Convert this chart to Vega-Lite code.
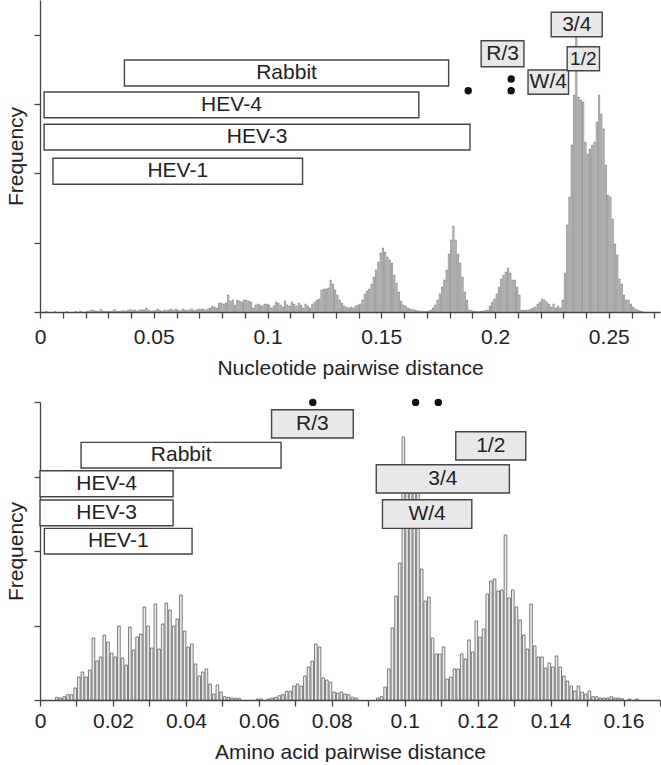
{
  "$schema": "https://vega.github.io/schema/vega-lite/v6.json",
  "padding": {"left": 5, "top": 0, "right": 0, "bottom": 0},
  "spacing": 20,
  "config": {
    "view": {"stroke": null},
    "font": "Liberation Sans",
    "text": {"font": "Liberation Sans"},
    "axis": {
      "labelFont": "Liberation Sans", "titleFont": "Liberation Sans",
      "labelFontSize": 21, "titleFontSize": 21, "titleFontWeight": "normal",
      "labelColor": "#222", "titleColor": "#222",
      "domainColor": "#444", "tickColor": "#444", "domainWidth": 1.3, "tickWidth": 1.3, "tickSize": 6,
      "grid": false, "labelOverlap": false, "labelFlush": false
    }
  },
  "vconcat": [
    {
      "width": 620, "height": 312,
      "layer": [
        {
          "data": {"values": [
            {"d":0.002,"f":0.5},{"d":0.006,"f":0.5},{"d":0.011,"f":0.5},{"d":0.015,"f":0.5},{"d":0.017,"f":0.5},
            {"d":0.020,"f":0.5},{"d":0.021,"f":1},{"d":0.022,"f":2},{"d":0.023,"f":1.5},{"d":0.024,"f":1},{"d":0.025,"f":0.5},{"d":0.026,"f":2.5},{"d":0.027,"f":1},{"d":0.028,"f":0.5},{"d":0.029,"f":1},
            {"d":0.030,"f":0.5},{"d":0.031,"f":1},{"d":0.032,"f":2.5},{"d":0.033,"f":1},{"d":0.034,"f":0.5},{"d":0.035,"f":1},{"d":0.036,"f":1.5},{"d":0.037,"f":1},{"d":0.038,"f":1.5},{"d":0.039,"f":2.5},
            {"d":0.040,"f":1.5},{"d":0.041,"f":2},{"d":0.042,"f":1},{"d":0.043,"f":2},{"d":0.044,"f":2.5},{"d":0.045,"f":2},{"d":0.046,"f":4},{"d":0.047,"f":2},{"d":0.048,"f":1},{"d":0.049,"f":1},
            {"d":0.050,"f":1.5},{"d":0.051,"f":3},{"d":0.052,"f":1.5},{"d":0.053,"f":1},{"d":0.054,"f":2},{"d":0.055,"f":1.5},{"d":0.056,"f":2},{"d":0.057,"f":3},{"d":0.058,"f":1.5},{"d":0.059,"f":3},
            {"d":0.060,"f":2},{"d":0.061,"f":1},{"d":0.062,"f":3},{"d":0.063,"f":2},{"d":0.064,"f":1.5},{"d":0.065,"f":2},{"d":0.066,"f":3},{"d":0.067,"f":1.5},{"d":0.068,"f":2},{"d":0.069,"f":3},
            {"d":0.070,"f":2.5},{"d":0.071,"f":3},{"d":0.072,"f":2},{"d":0.073,"f":3},{"d":0.074,"f":4},{"d":0.075,"f":6},{"d":0.076,"f":5},{"d":0.077,"f":4},{"d":0.078,"f":9},{"d":0.079,"f":9},
            {"d":0.080,"f":8},{"d":0.081,"f":9},{"d":0.082,"f":17},{"d":0.083,"f":11},{"d":0.084,"f":12},{"d":0.085,"f":7},{"d":0.086,"f":12},{"d":0.087,"f":11},{"d":0.088,"f":10},{"d":0.089,"f":12},
            {"d":0.090,"f":12},{"d":0.091,"f":11},{"d":0.092,"f":10},{"d":0.093,"f":4},{"d":0.094,"f":7},{"d":0.095,"f":8},{"d":0.096,"f":7},{"d":0.097,"f":6},{"d":0.098,"f":8},{"d":0.099,"f":8},
            {"d":0.100,"f":7},{"d":0.101,"f":4},{"d":0.102,"f":6},{"d":0.103,"f":10},{"d":0.104,"f":9},{"d":0.105,"f":7},{"d":0.106,"f":5},{"d":0.107,"f":11},{"d":0.108,"f":7},{"d":0.109,"f":6},
            {"d":0.110,"f":10},{"d":0.111,"f":8},{"d":0.112,"f":6},{"d":0.113,"f":9},{"d":0.114,"f":7},{"d":0.115,"f":4},{"d":0.116,"f":8},{"d":0.117,"f":6},{"d":0.118,"f":4},{"d":0.119,"f":8},
            {"d":0.120,"f":10},{"d":0.121,"f":12},{"d":0.122,"f":13},{"d":0.123,"f":22},{"d":0.124,"f":23},{"d":0.125,"f":23},{"d":0.126,"f":24},{"d":0.127,"f":32},{"d":0.128,"f":28},{"d":0.129,"f":22},
            {"d":0.130,"f":17},{"d":0.131,"f":12},{"d":0.132,"f":9},{"d":0.133,"f":6},{"d":0.134,"f":5},{"d":0.135,"f":4},{"d":0.136,"f":5},{"d":0.137,"f":4},{"d":0.138,"f":6},{"d":0.139,"f":7},
            {"d":0.140,"f":8},{"d":0.141,"f":12},{"d":0.142,"f":18},{"d":0.143,"f":21},{"d":0.144,"f":23},{"d":0.145,"f":28},{"d":0.146,"f":35},{"d":0.147,"f":42},{"d":0.148,"f":50},{"d":0.149,"f":59},
            {"d":0.150,"f":64},{"d":0.151,"f":60},{"d":0.152,"f":55},{"d":0.153,"f":52},{"d":0.154,"f":49},{"d":0.155,"f":37},{"d":0.156,"f":29},{"d":0.157,"f":20},{"d":0.158,"f":11},{"d":0.159,"f":7},
            {"d":0.160,"f":6},{"d":0.161,"f":4},{"d":0.162,"f":3},{"d":0.163,"f":2.5},{"d":0.164,"f":2},{"d":0.165,"f":1.5},{"d":0.166,"f":1},{"d":0.167,"f":1},{"d":0.168,"f":0.5},{"d":0.169,"f":0.5},
            {"d":0.170,"f":1},{"d":0.171,"f":2},{"d":0.172,"f":4},{"d":0.173,"f":7},{"d":0.174,"f":12},{"d":0.175,"f":18},{"d":0.176,"f":25},{"d":0.177,"f":32},{"d":0.178,"f":42},{"d":0.179,"f":58},
            {"d":0.180,"f":72},{"d":0.181,"f":86},{"d":0.182,"f":72},{"d":0.183,"f":58},{"d":0.184,"f":49},{"d":0.185,"f":35},{"d":0.186,"f":20},{"d":0.187,"f":12},{"d":0.188,"f":2},{"d":0.189,"f":1.5},
            {"d":0.190,"f":1},{"d":0.191,"f":0.5},{"d":0.192,"f":0.5},{"d":0.193,"f":0.5},{"d":0.194,"f":1},{"d":0.195,"f":1.5},{"d":0.196,"f":2},{"d":0.197,"f":6},{"d":0.198,"f":10},{"d":0.199,"f":13},
            {"d":0.200,"f":18},{"d":0.201,"f":25},{"d":0.202,"f":33},{"d":0.203,"f":37},{"d":0.204,"f":40},{"d":0.205,"f":44},{"d":0.206,"f":39},{"d":0.207,"f":32},{"d":0.208,"f":32},{"d":0.209,"f":25},
            {"d":0.210,"f":17},{"d":0.211,"f":2},{"d":0.212,"f":1.5},{"d":0.213,"f":2},{"d":0.214,"f":2},{"d":0.215,"f":3},{"d":0.216,"f":4},{"d":0.217,"f":5},{"d":0.218,"f":8},{"d":0.219,"f":10},
            {"d":0.220,"f":13},{"d":0.221,"f":12},{"d":0.222,"f":10},{"d":0.223,"f":8},{"d":0.224,"f":5},{"d":0.225,"f":8},{"d":0.226,"f":4},{"d":0.227,"f":6},{"d":0.228,"f":4},{"d":0.229,"f":12},
            {"d":0.230,"f":39},{"d":0.231,"f":87},{"d":0.232,"f":115},{"d":0.233,"f":167},{"d":0.234,"f":217},{"d":0.235,"f":290},{"d":0.236,"f":215},{"d":0.237,"f":212},{"d":0.238,"f":210},{"d":0.239,"f":170},
            {"d":0.240,"f":158},{"d":0.241,"f":163},{"d":0.242,"f":167},{"d":0.243,"f":170},{"d":0.244,"f":190},{"d":0.245,"f":217},{"d":0.246,"f":198},{"d":0.247,"f":183},{"d":0.248,"f":147},{"d":0.249,"f":117},
            {"d":0.250,"f":115},{"d":0.251,"f":93},{"d":0.252,"f":68},{"d":0.253,"f":57},{"d":0.254,"f":33},{"d":0.255,"f":28},{"d":0.256,"f":17},{"d":0.257,"f":12},{"d":0.258,"f":12},{"d":0.259,"f":8},
            {"d":0.260,"f":5},{"d":0.261,"f":3},{"d":0.262,"f":2},{"d":0.263,"f":1},{"d":0.264,"f":0.5}
          ]},
          "mark": {"type": "bar", "fill": "#dadada", "stroke": "#555", "strokeWidth": 0.5},
          "encoding": {
            "x": {"field": "d", "type": "quantitative", "bin": {"binned": true, "step": 0.001},
                  "scale": {"domain": [0, 0.2725], "nice": false, "zero": false},
                  "title": "Nucleotide pairwise distance",
                  "axis": {"values": [0,0.01,0.02,0.03,0.04,0.05,0.06,0.07,0.08,0.09,0.1,0.11,0.12,0.13,0.14,0.15,0.16,0.17,0.18,0.19,0.2,0.21,0.22,0.23,0.24,0.25,0.26,0.27],
                           "labelExpr": "round(datum.value*100) % 5 == 0 ? toString(round(datum.value*100)/100) : ''",
                           "labelPadding": 8, "titlePadding": 10}},
            "y": {"field": "f", "type": "quantitative",
                  "scale": {"domain": [0, 312], "nice": false},
                  "title": "Frequency",
                  "axis": {"values": [0,34.67,69.33,104,138.67,173.33,208,242.67,277.33,312], "labels": false, "titlePadding": 7}}
          }
        },
        {
          "data": {"values": [
            {"label":"Rabbit","kind":"group","x0":0.0371,"x1":0.1796,"y0":226,"y1":252,"xm":0.10835,"ym":239,"fs":21},
            {"label":"HEV-4","kind":"group","x0":0.0018,"x1":0.1665,"y0":194.3,"y1":220,"xm":0.08415,"ym":207.2,"fs":21},
            {"label":"HEV-3","kind":"group","x0":0.0018,"x1":0.189,"y0":162,"y1":187.7,"xm":0.0954,"ym":174.9,"fs":21},
            {"label":"HEV-1","kind":"group","x0":0.0057,"x1":0.1154,"y0":127.7,"y1":153.7,"xm":0.06055,"ym":140.7,"fs":21},
            {"label":"R/3","kind":"pair","x0":0.1939,"x1":0.2127,"y0":245.3,"y1":271.3,"xm":0.2033,"ym":258.3,"fs":21},
            {"label":"W/4","kind":"pair","x0":0.2145,"x1":0.2323,"y0":217.7,"y1":242,"xm":0.2234,"ym":229.9,"fs":21},
            {"label":"3/4","kind":"pair","x0":0.2247,"x1":0.2471,"y0":275.3,"y1":299.7,"xm":0.2359,"ym":287.5,"fs":21},
            {"label":"1/2","kind":"pair","x0":0.2317,"x1":0.2459,"y0":241.3,"y1":265.3,"xm":0.2388,"ym":253.3,"fs":19}
          ]},
          "layer": [
            {"mark": {"type": "rect", "stroke": "#444", "strokeWidth": 1.4},
             "encoding": {
               "x": {"field": "x0", "type": "quantitative"}, "x2": {"field": "x1"},
               "y": {"field": "y0", "type": "quantitative"}, "y2": {"field": "y1"},
               "fill": {"field": "kind", "type": "nominal", "scale": {"domain": ["group","pair"], "range": ["#ffffff","#e8e8e8"]}, "legend": null}
             }},
            {"mark": {"type": "text", "color": "#222", "baseline": "middle", "align": "center"},
             "encoding": {
               "x": {"field": "xm", "type": "quantitative"},
               "y": {"field": "ym", "type": "quantitative"},
               "text": {"field": "label"},
               "size": {"field": "fs", "type": "quantitative", "scale": null}
             }}
          ]
        },
        {
          "data": {"values": [{"d":0.1882,"f":221.3},{"d":0.2071,"f":233},{"d":0.2071,"f":221.3}]},
          "mark": {"type": "point", "filled": true, "color": "#111", "size": 55, "opacity": 1},
          "encoding": {"x": {"field": "d", "type": "quantitative"}, "y": {"field": "f", "type": "quantitative"}}
        }
      ]
    },
    {
      "width": 620, "height": 298,
      "layer": [
        {
          "data": {"values": [
            {"d":0.004,"f":2.7},{"d":0.005,"f":2},{"d":0.006,"f":3.3},{"d":0.007,"f":5.3},{"d":0.008,"f":5.3},{"d":0.009,"f":12},
            {"d":0.010,"f":23},{"d":0.011,"f":28},{"d":0.012,"f":23},{"d":0.013,"f":30},{"d":0.014,"f":62},{"d":0.015,"f":39},{"d":0.016,"f":43},{"d":0.017,"f":65},{"d":0.018,"f":58},{"d":0.019,"f":47},
            {"d":0.020,"f":43},{"d":0.021,"f":74},{"d":0.022,"f":42},{"d":0.023,"f":35},{"d":0.024,"f":73},{"d":0.025,"f":50},{"d":0.026,"f":63},{"d":0.027,"f":66},{"d":0.028,"f":93},{"d":0.029,"f":74},
            {"d":0.030,"f":52},{"d":0.031,"f":96},{"d":0.032,"f":51},{"d":0.033,"f":76},{"d":0.034,"f":97},{"d":0.035,"f":90},{"d":0.036,"f":74},{"d":0.037,"f":81},{"d":0.038,"f":105},{"d":0.039,"f":69},
            {"d":0.040,"f":53},{"d":0.041,"f":56},{"d":0.042,"f":36},{"d":0.043,"f":24},{"d":0.044,"f":28},{"d":0.045,"f":31},{"d":0.046,"f":16},{"d":0.047,"f":6},{"d":0.048,"f":15},{"d":0.049,"f":8},
            {"d":0.050,"f":3.3},{"d":0.051,"f":2.7},{"d":0.052,"f":2},{"d":0.053,"f":1.7},{"d":0.054,"f":1.7},{"d":0.059,"f":1},
            {"d":0.060,"f":1},{"d":0.062,"f":1},{"d":0.063,"f":2},{"d":0.064,"f":2.7},{"d":0.065,"f":4.3},{"d":0.066,"f":5.3},{"d":0.067,"f":8.7},{"d":0.068,"f":8.7},{"d":0.069,"f":14},
            {"d":0.070,"f":16},{"d":0.071,"f":14},{"d":0.072,"f":24},{"d":0.073,"f":33},{"d":0.074,"f":39},{"d":0.075,"f":56},{"d":0.076,"f":53},{"d":0.077,"f":22},{"d":0.078,"f":20},{"d":0.079,"f":18},
            {"d":0.080,"f":8},{"d":0.081,"f":7},{"d":0.082,"f":8},{"d":0.083,"f":6},{"d":0.084,"f":5.3},{"d":0.085,"f":2.7},{"d":0.086,"f":2},
            {"d":0.092,"f":2},{"d":0.093,"f":3.3},{"d":0.094,"f":13},{"d":0.095,"f":31},{"d":0.096,"f":72},{"d":0.097,"f":104},{"d":0.098,"f":137},{"d":0.099,"f":263},
            {"d":0.100,"f":225},{"d":0.101,"f":230},{"d":0.102,"f":220},{"d":0.103,"f":215},{"d":0.104,"f":131},{"d":0.105,"f":99},{"d":0.106,"f":103},{"d":0.107,"f":62},{"d":0.108,"f":46},{"d":0.109,"f":46},
            {"d":0.110,"f":53},{"d":0.111,"f":21},{"d":0.112,"f":23},{"d":0.113,"f":31},{"d":0.114,"f":31},{"d":0.115,"f":46},{"d":0.116,"f":41},{"d":0.117,"f":60},{"d":0.118,"f":48},{"d":0.119,"f":79},
            {"d":0.120,"f":63},{"d":0.121,"f":71},{"d":0.122,"f":106},{"d":0.123,"f":119},{"d":0.124,"f":121},{"d":0.125,"f":109},{"d":0.126,"f":110},{"d":0.127,"f":165},{"d":0.128,"f":102},{"d":0.129,"f":110},
            {"d":0.130,"f":93},{"d":0.131,"f":80},{"d":0.132,"f":65},{"d":0.133,"f":51},{"d":0.134,"f":96},{"d":0.135,"f":54},{"d":0.136,"f":43},{"d":0.137,"f":43},{"d":0.138,"f":32},{"d":0.139,"f":37},
            {"d":0.140,"f":33},{"d":0.141,"f":44},{"d":0.142,"f":33},{"d":0.143,"f":24},{"d":0.144,"f":19},{"d":0.145,"f":14},{"d":0.146,"f":9},{"d":0.147,"f":14},{"d":0.148,"f":8},{"d":0.149,"f":6},
            {"d":0.150,"f":9},{"d":0.151,"f":3.3},{"d":0.152,"f":3.3},{"d":0.153,"f":2},{"d":0.154,"f":2},{"d":0.155,"f":2},{"d":0.156,"f":3.3},{"d":0.157,"f":2},{"d":0.158,"f":2},{"d":0.159,"f":1.3},
            {"d":0.161,"f":1},{"d":0.163,"f":1}
          ]},
          "mark": {"type": "bar", "fill": "#ececec", "stroke": "#4a4a4a", "strokeWidth": 0.7},
          "encoding": {
            "x": {"field": "d", "type": "quantitative", "bin": {"binned": true, "step": 0.001},
                  "scale": {"domain": [0, 0.17], "nice": false, "zero": false},
                  "title": "Amino acid pairwise distance",
                  "axis": {"values": [0,0.01,0.02,0.03,0.04,0.05,0.06,0.07,0.08,0.09,0.1,0.11,0.12,0.13,0.14,0.15,0.16,0.17],
                           "labelExpr": "round(datum.value*100) % 2 == 0 ? toString(round(datum.value*100)/100) : ''",
                           "labelPadding": 4, "titlePadding": 10}},
            "y": {"field": "f", "type": "quantitative",
                  "scale": {"domain": [0, 298], "nice": false},
                  "title": "Frequency",
                  "axis": {"values": [0,37.25,74.5,111.75,149,186.25,223.5,260.75,298], "labels": false, "titlePadding": 7}}
          }
        },
        {
          "data": {"values": [
            {"label":"R/3","kind":"pair","x0":0.0635,"x1":0.0859,"y0":262,"y1":290.3,"xm":0.0747,"ym":276.2},
            {"label":"Rabbit","kind":"group","x0":0.01126,"x1":0.0661,"y0":232,"y1":257.6,"xm":0.0387,"ym":244.8},
            {"label":"HEV-4","kind":"group","x0":0,"x1":0.0365,"y0":203.3,"y1":229.3,"xm":0.01825,"ym":216.3},
            {"label":"HEV-3","kind":"group","x0":0,"x1":0.0365,"y0":174.3,"y1":200,"xm":0.01825,"ym":187.2},
            {"label":"HEV-1","kind":"group","x0":0.0012,"x1":0.0417,"y0":146,"y1":171.6,"xm":0.02145,"ym":158.8},
            {"label":"1/2","kind":"pair","x0":0.114,"x1":0.1332,"y0":240,"y1":268.3,"xm":0.1236,"ym":254.2},
            {"label":"3/4","kind":"pair","x0":0.0922,"x1":0.1287,"y0":207,"y1":235.3,"xm":0.11045,"ym":221.2},
            {"label":"W/4","kind":"pair","x0":0.0939,"x1":0.1184,"y0":171.6,"y1":200.3,"xm":0.10615,"ym":186}
          ]},
          "layer": [
            {"mark": {"type": "rect", "stroke": "#444", "strokeWidth": 1.4},
             "encoding": {
               "x": {"field": "x0", "type": "quantitative"}, "x2": {"field": "x1"},
               "y": {"field": "y0", "type": "quantitative"}, "y2": {"field": "y1"},
               "fill": {"field": "kind", "type": "nominal", "scale": {"domain": ["group","pair"], "range": ["#ffffff","#e8e8e8"]}, "legend": null}
             }},
            {"mark": {"type": "text", "color": "#222", "baseline": "middle", "align": "center", "fontSize": 21},
             "encoding": {
               "x": {"field": "xm", "type": "quantitative"},
               "y": {"field": "ym", "type": "quantitative"},
               "text": {"field": "label"}
             }}
          ]
        },
        {
          "data": {"values": [{"d":0.0748,"f":297.6},{"d":0.103,"f":297.6},{"d":0.1092,"f":297.6}]},
          "mark": {"type": "point", "filled": true, "color": "#111", "size": 55, "opacity": 1},
          "encoding": {"x": {"field": "d", "type": "quantitative"}, "y": {"field": "f", "type": "quantitative"}}
        }
      ]
    }
  ]
}
